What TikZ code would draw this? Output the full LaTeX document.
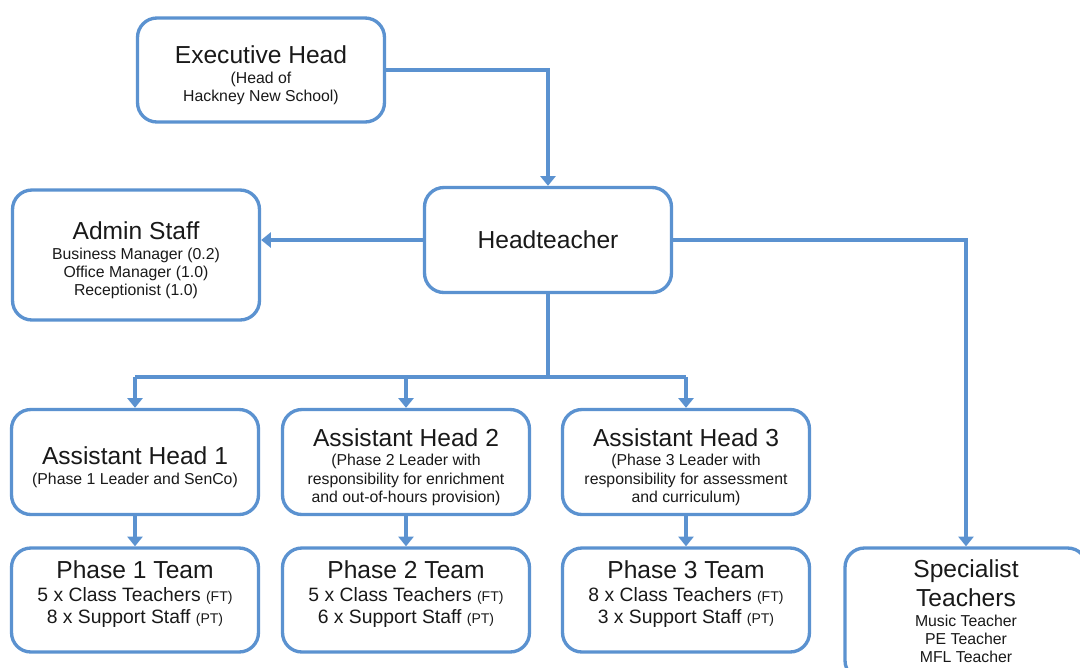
\documentclass[tikz,border=0pt]{standalone}
\usepackage{fontspec}
\setmainfont{Liberation Sans}
\usepackage{xcolor}
\usetikzlibrary{arrows.meta}
\definecolor{chartblue}{RGB}{91,146,208}
\newcommand{\titlesize}{\fontsize{14}{16.5}\selectfont}
\newcommand{\notesize}{\fontsize{9}{10.3}\selectfont}
\newcommand{\teamsize}{\fontsize{11}{12.5}\selectfont}
\newcommand{\tagsize}{\fontsize{8}{9}\selectfont}
\newcommand{\heading}[1]{{\titlesize\rule{0pt}{16pt}#1}}

\begin{document}
\begin{tikzpicture}[x=0.02cm, y=-0.02cm,
  box/.style={draw=chartblue, line width=1.9pt, rounded corners=11pt, align=center,
    minimum width=4.94cm, minimum height=2.08cm, font=\notesize, text=black!90},
  link/.style={draw=chartblue, line width=1.9pt, -{Triangle[width=8.5pt,length=5.5pt]}},
  bar/.style={draw=chartblue, line width=1.9pt}]
\useasboundingbox (0,0) rectangle (1080,667);

\node[box] (exec) at (261,70) {\heading{Executive Head}\\[1pt](Head of\\Hackney New School)};
\node[box, minimum height=2.1cm] (ht) at (548,240) {\titlesize Headteacher};
\node[box, minimum height=2.6cm] (admin) at (136,255) {\heading{Admin Staff}\\[1pt]Business Manager (0.2)\\Office Manager (1.0)\\Receptionist (1.0)};

\node[box, minimum height=2.1cm] (ah1) at (135,462) {\heading{Assistant Head 1}\\[0.7pt](Phase 1 Leader and SenCo)};
\node[box, minimum height=2.1cm] (ah2) at (406,462) {\heading{Assistant Head 2}\\[0.7pt](Phase 2 Leader with\\responsibility for enrichment\\and out-of-hours provision)};
\node[box, minimum height=2.1cm] (ah3) at (686,462) {\heading{Assistant Head 3}\\[0.7pt](Phase 3 Leader with\\responsibility for assessment\\and curriculum)};

\node[box, font=\teamsize] (ph1) at (135,600) {{\titlesize Phase 1 Team}\\[1.1pt]5 x Class Teachers {\tagsize(FT)}\\8 x Support Staff {\tagsize(PT)}\rule[-9pt]{0pt}{1pt}};
\node[box, font=\teamsize] (ph2) at (406,600) {{\titlesize Phase 2 Team}\\[1.1pt]5 x Class Teachers {\tagsize(FT)}\\6 x Support Staff {\tagsize(PT)}\rule[-9pt]{0pt}{1pt}};
\node[box, font=\teamsize] (ph3) at (686,600) {{\titlesize Phase 3 Team}\\[1.1pt]8 x Class Teachers {\tagsize(FT)}\\3 x Support Staff {\tagsize(PT)}\rule[-9pt]{0pt}{1pt}};

\node[box, minimum width=4.84cm, minimum height=2.64cm] (spec) at (966,614) {{\titlesize Specialist}\\[2.5pt]{\titlesize Teachers}\\[1pt]Music Teacher\\PE Teacher\\MFL Teacher\rule[-3.5pt]{0pt}{1pt}};

\coordinate (bus) at (548,377);

\draw[link] (exec.east) -| (ht.north);
\draw[link] (ht.west) -- (ht.west -| admin.east);
\draw[link] (ht.east) -| (spec.north);
\draw[bar] (ht.south) -- (bus);
\draw[bar] (ah1.north |- bus) -- (ah3.north |- bus);
\foreach \n in {ah1,ah2,ah3}
  \draw[link] (\n.north |- bus) -- (\n.north);
\foreach \i in {1,2,3}
  \draw[link] (ah\i.south) -- (ph\i.north);
\end{tikzpicture}
\end{document}
